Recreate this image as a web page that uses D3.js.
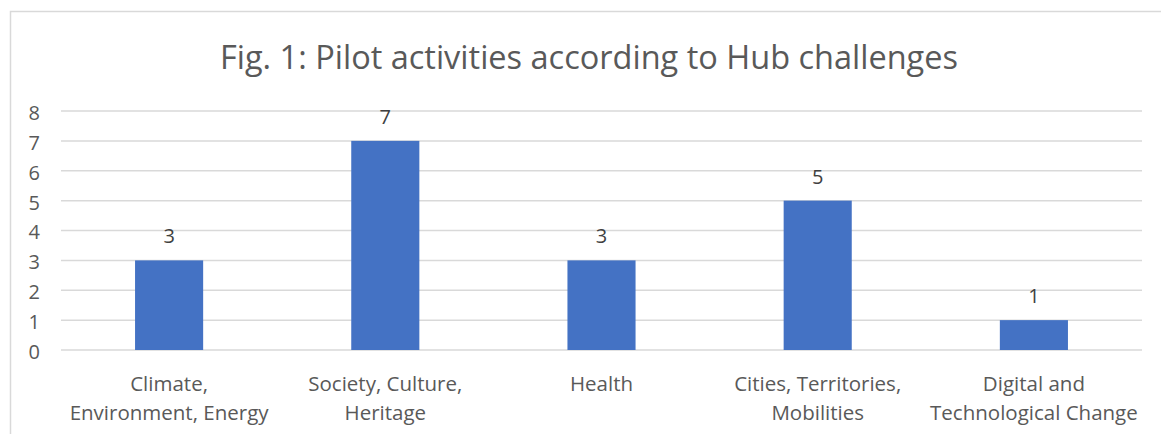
<!DOCTYPE html>
<html>
<head>
<meta charset="utf-8">
<script src="https://cdn.jsdelivr.net/npm/d3@7"></script>
<style>
  html, body { margin: 0; padding: 0; background: #fff; }
  svg { display: block; }
  text { font-family: "Open Sans", sans-serif; }
</style>
</head>
<body>
<svg id="chart" width="1161" height="434"></svg>
<script>
const title = "Fig. 1: Pilot activities according to Hub challenges";
const categories = [
  ["Climate,", "Environment, Energy"],
  ["Society, Culture,", "Heritage"],
  ["Health"],
  ["Cities, Territories,", "Mobilities"],
  ["Digital and", "Technological Change"]
];
const values = [3, 7, 3, 5, 1];
const yTicks = [0, 1, 2, 3, 4, 5, 6, 7, 8];

const svg = d3.select("#chart");
const plotLeft = 61, plotRight = 1142, plotTop = 111, plotBottom = 350;

// chart border
svg.append("rect")
  .attr("x", 10.5).attr("y", 11.5)
  .attr("width", 1200).attr("height", 500)
  .attr("fill", "#fff").attr("stroke", "#d9d9d9").attr("stroke-width", 1.5);

const x = d3.scaleBand()
  .domain(d3.range(categories.length))
  .range([plotLeft, plotRight])
  .paddingInner(0.685)
  .paddingOuter(0.3425);

const y = d3.scaleLinear().domain([0, 8]).range([plotBottom, plotTop]);

// gridlines
svg.append("g").selectAll("line").data(yTicks).join("line")
  .attr("x1", plotLeft).attr("x2", plotRight)
  .attr("y1", d => y(d)).attr("y2", d => y(d))
  .attr("stroke", "#d9d9d9").attr("stroke-width", 1.5);

// y axis labels
const yAxis = d3.axisLeft(y).tickValues(yTicks).tickSize(0).tickPadding(0);
const yg = svg.append("g").attr("transform", `translate(40,0)`).call(yAxis);
yg.select(".domain").remove();
yg.selectAll("text")
  .attr("fill", "#595959")
  .attr("dy", "0.42em")
  .style("font-size", "20px")
  .style("font-family", "'Open Sans', sans-serif");

// bars
svg.append("g").selectAll("rect").data(values).join("rect")
  .attr("x", (d, i) => x(i))
  .attr("width", x.bandwidth())
  .attr("y", d => y(d))
  .attr("height", d => y(0) - y(d))
  .attr("fill", "#4472c4");

// data labels
svg.append("g").selectAll("text").data(values).join("text")
  .attr("x", (d, i) => x(i) + x.bandwidth() / 2)
  .attr("y", d => y(d) - 17)
  .attr("text-anchor", "middle")
  .attr("fill", "#404040")
  .style("font-size", "20px")
  .text(d => d);

// category labels
const xg = svg.append("g");
categories.forEach((lines, i) => {
  const cx = x(i) + x.bandwidth() / 2;
  const t = xg.append("text")
    .attr("x", cx).attr("y", 391)
    .attr("text-anchor", "middle")
    .attr("fill", "#595959")
    .style("font-size", "20.5px");
  lines.forEach((ln, j) => {
    t.append("tspan").attr("x", cx).attr("dy", j === 0 ? 0 : 28.5).text(ln);
  });
});

// title
svg.append("text")
  .attr("x", 589).attr("y", 69)
  .attr("text-anchor", "middle")
  .attr("fill", "#595959")
  .style("font-size", "32.5px")
  .text(title);
</script>
</body>
</html>
